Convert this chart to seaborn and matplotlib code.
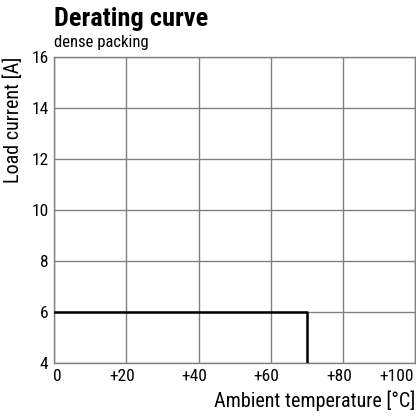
import matplotlib
matplotlib.use('Agg')
import matplotlib.pyplot as plt
import matplotlib.transforms as mtransforms
import seaborn as sns
import pandas as pd

# derating curve, dense packing
temperature = [0, 70, 70]
current = [6, 6, 4]
x_ticks = [0, 20, 40, 60, 80, 100]
x_tick_labels = ['0', '+20', '+40', '+60', '+80', '+100']
y_ticks = [4, 6, 8, 10, 12, 14, 16]

sns.set_style('white')
plt.rcParams['font.family'] = ['Liberation Sans Narrow', 'Roboto Condensed', 'Liberation Sans', 'DejaVu Sans']
plt.rcParams['text.color'] = 'black'

df = pd.DataFrame({'temp': temperature, 'current': current})

fig = plt.figure(figsize=(4.16, 4.16), dpi=100)
ax = fig.add_axes([0.13, 0.127, 0.868, 0.736])

sns.lineplot(data=df, x='temp', y='current', sort=False, estimator=None,
             color='black', linewidth=1.8, ax=ax, zorder=3)

ax.set_xlim(0, 100)
ax.set_ylim(4, 16)
ax.set_xticks(x_ticks)
ax.set_xticklabels(x_tick_labels)
ax.set_yticks(y_ticks)
ax.grid(True, color='#808080', linewidth=1.0)
for s in ax.spines.values():
    s.set_color('#808080')
    s.set_linewidth(1.0)
ax.tick_params(axis='both', length=0, labelsize=12.5, colors='black')
ax.tick_params(axis='y', pad=4)
ax.tick_params(axis='x', pad=4)

# shift the "+" labels so the digits sit on the gridline
shift = mtransforms.ScaledTranslation(-4 / 100, 0, fig.dpi_scale_trans)
labels = ax.get_xticklabels()
for lab in labels[1:-1]:
    lab.set_transform(lab.get_transform() + shift)
labels[0].set_transform(labels[0].get_transform()
                        + mtransforms.ScaledTranslation(3 / 100, 0, fig.dpi_scale_trans))
labels[-1].set_horizontalalignment('right')
labels[-1].set_transform(labels[-1].get_transform()
                         + mtransforms.ScaledTranslation(-1 / 100, 0, fig.dpi_scale_trans))

ax.set_xlabel('Ambient temperature [°C]', fontsize=14.5, loc='right', labelpad=5, color='black')
ax.set_ylabel('Load current [A]', fontsize=14.5, loc='top', labelpad=6, color='black')

fig.text(0.131, 0.9375, 'Derating curve', fontsize=19, fontweight='bold', ha='left', va='baseline')
fig.text(0.131, 0.886, 'dense packing', fontsize=12, ha='left', va='baseline')

fig.savefig('out.png', dpi=100)
